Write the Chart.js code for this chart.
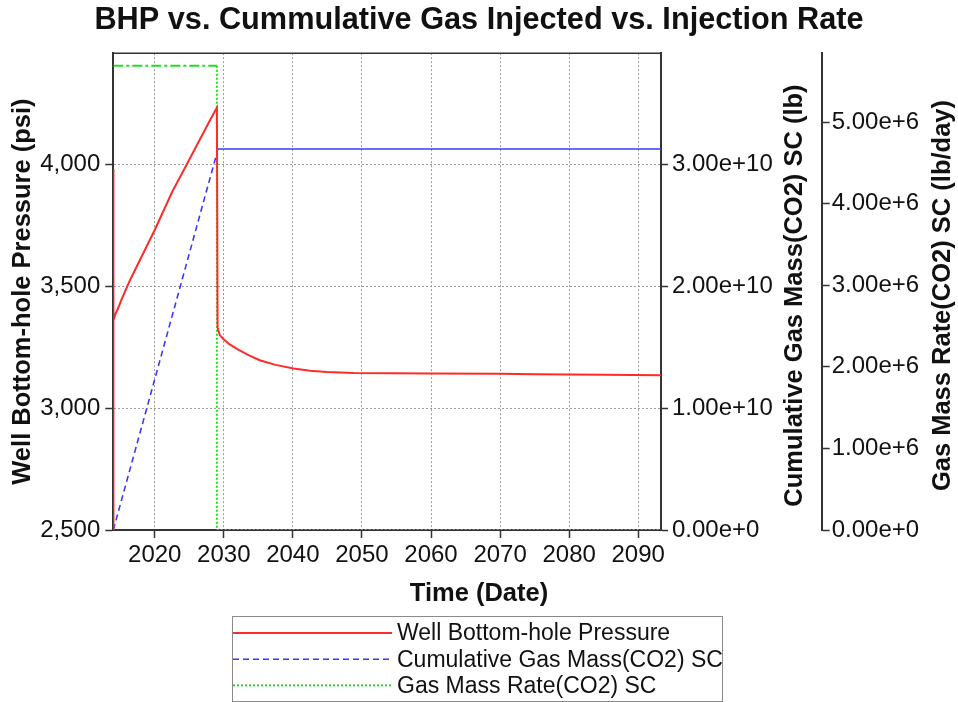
<!DOCTYPE html>
<html>
<head>
<meta charset="utf-8">
<title>BHP vs. Cummulative Gas Injected vs. Injection Rate</title>
<script src="https://cdn.jsdelivr.net/npm/chart.js@4.4.1/dist/chart.umd.min.js"></script>
<style>
  html, body { margin: 0; padding: 0; background: #fff; }
  #wrap { position: relative; width: 958px; height: 702px; }
</style>
</head>
<body>
<div id="wrap"><canvas id="chartBhp"></canvas></div>
<script>
// ── TEXT ──────────────────────────────────────────────────────
const CHART_TITLE = 'BHP vs. Cummulative Gas Injected vs. Injection Rate';
const X_TITLE  = 'Time (Date)';
const Y_TITLE  = 'Well Bottom-hole Pressure (psi)';
const Y1_TITLE = 'Cumulative Gas Mass(CO2) SC (lb)';
const Y2_TITLE = 'Gas Mass Rate(CO2) SC (lb/day)';
const SERIES_LABELS = ['Well Bottom-hole Pressure', 'Cumulative Gas Mass(CO2) SC', 'Gas Mass Rate(CO2) SC'];

// ── TICKS ─────────────────────────────────────────────────────
const YEAR_TICKS = [2020, 2030, 2040, 2050, 2060, 2070, 2080, 2090];
const PSI_TICKS  = [2500, 3000, 3500, 4000];
const CUM_TICKS  = [0, 1e10, 2e10, 3e10];
const RATE_TICKS = [0, 1e6, 2e6, 3e6, 4e6, 5e6];

// ── DATA (decimal years) ──────────────────────────────────────
const bhpYears = [2014.0, 2014.01, 2014.03, 2014.3, 2014.7, 2015.2, 2016.4, 2018.0, 2020.0, 2022.6, 2024.0, 2026.0, 2028.0, 2029.0,
                  2029.1, 2029.4, 2029.9, 2030.8, 2031.9, 2033.5, 2035.2, 2037.5, 2040.1, 2042.5, 2044.9, 2048.8,
                  2060.0, 2070.0, 2075.0, 2085.0, 2093.3];
const bhpPsi   = [2400, 3980, 3360, 3385, 3410, 3445, 3523, 3615, 3730, 3891, 3965, 4072, 4180, 4232,
                  3330, 3300, 3284, 3262, 3243, 3218, 3196, 3177, 3162, 3153, 3148, 3144,
                  3142, 3141, 3139, 3136, 3134];

const cumYears = [2014.0, 2029.0, 2029.1, 2093.3];
const cumLb    = [0, 3.09e10, 3.124e10, 3.124e10];

const rateYears = [2014.0, 2029.0, 2029.0, 2093.3];
const rateLbDay = [5.69e6, 5.69e6, 0, 0];

// ── STYLE ─────────────────────────────────────────────────────
const FONT   = "'Liberation Sans', Arial, sans-serif";
const INK    = '#111';
const AXIS   = '#333';
const GRID   = '#9a9a9a';
const COLORS = { bhp: '#ff2a2a', cum: '#3a3aff', rate: '#22dd22' };

function pts(xs, ys) { return xs.map((x, i) => ({ x, y: ys[i] })); }
function fixTicks(list) { return scale => { scale.ticks = list.map(v => ({ value: v })); }; }
function sci(v) { return v.toExponential(2); }
// plateau after shut-in is drawn solid in the source plot
function flatSolid(ctx) { return ctx.p0.parsed.y === ctx.p1.parsed.y ? [] : undefined; }

// ── OVERLAY: top frame, right titles, boxed legend ────────────
const overlay = {
  id: 'overlay',
  afterDraw(chart) {
    const { ctx, chartArea: a, scales } = chart;
    ctx.save();
    ctx.strokeStyle = AXIS; ctx.lineWidth = 1.5;
    ctx.beginPath(); ctx.moveTo(a.left, a.top); ctx.lineTo(a.right, a.top); ctx.stroke();

    // right axis titles read bottom-to-top
    ctx.fillStyle = INK;
    ctx.font = `bold 25.5px ${FONT}`;
    ctx.textAlign = 'center'; ctx.textBaseline = 'middle';
    [[scales.y1, Y1_TITLE, 26.5], [scales.y2, Y2_TITLE, 15]].forEach(([s, text, off]) => {
      ctx.save();
      ctx.translate(s.right - off, (a.top + a.bottom) / 2 + 4);
      ctx.rotate(-Math.PI / 2);
      ctx.fillText(text, 0, 0);
      ctx.restore();
    });

    // legend
    const L = { x: 232, y: 616, w: 490, h: 85, line: 159, row: 26.2 };
    ctx.strokeStyle = '#8a8a8a'; ctx.lineWidth = 1;
    ctx.strokeRect(L.x + 0.5, L.y + 0.5, L.w, L.h);
    ctx.font = `23px ${FONT}`;
    ctx.textAlign = 'left';
    chart.data.datasets.forEach((ds, i) => {
      const y = L.y + 17 + i * L.row;
      ctx.strokeStyle = ds.borderColor; ctx.lineWidth = ds.borderWidth;
      ctx.setLineDash(ds.legendDash || ds.borderDash || []);
      ctx.beginPath(); ctx.moveTo(L.x + 1, y); ctx.lineTo(L.x + 1 + L.line, y); ctx.stroke();
      ctx.setLineDash([]);
      ctx.fillStyle = INK;
      ctx.fillText(ds.label, L.x + L.line + 6, y + 1);
    });
    ctx.restore();
  }
};

// ── AXIS HELPERS ──────────────────────────────────────────────
function tickFont() { return { family: FONT, size: 24 }; }

function yScale(min, max, ticks, extra) {
  return Object.assign({
    type: 'linear', min, max,
    afterBuildTicks: fixTicks(ticks),
    border: { color: AXIS, width: 2, dash: [2, 2] },
  }, extra);
}

// ── CHART ─────────────────────────────────────────────────────
new Chart(document.getElementById('chartBhp'), {
  type: 'line',
  data: {
    datasets: [
      { label: SERIES_LABELS[0], data: pts(bhpYears, bhpPsi), yAxisID: 'y',
        borderColor: COLORS.bhp, borderWidth: 2, pointRadius: 0, tension: 0 },
      { label: SERIES_LABELS[1], data: pts(cumYears, cumLb), yAxisID: 'y1',
        borderColor: COLORS.cum, borderWidth: 1.6, borderDash: [6, 4], pointRadius: 0, tension: 0,
        segment: { borderDash: flatSolid } },
      { label: SERIES_LABELS[2], data: pts(rateYears, rateLbDay), yAxisID: 'y2',
        borderColor: COLORS.rate, borderWidth: 2, borderDash: [2, 2], pointRadius: 0, tension: 0,
        segment: { borderDash: ctx => (ctx.p0.parsed.y > 0 && ctx.p1.parsed.y > 0 ? [10, 3, 3, 3] : undefined) } },
    ]
  },
  options: {
    responsive: true, maintainAspectRatio: false, animation: false,
    layout: { padding: { top: 0, left: 0, right: 0, bottom: 84.4 } },
    plugins: {
      legend: { display: false },
      tooltip: { enabled: false },
      title: {
        display: true, text: CHART_TITLE, color: INK,
        font: { family: FONT, size: 30.7, weight: 'bold' },
        padding: { top: 2, bottom: 14.3 }
      },
      subtitle: {
        display: true, position: 'bottom', text: X_TITLE, color: INK,
        font: { family: FONT, size: 25.5, weight: 'bold' },
        padding: { top: 9, bottom: 8 }
      }
    },
    scales: {
      x: {
        type: 'linear', min: 2014.0, max: 2093.3,
        afterBuildTicks: fixTicks(YEAR_TICKS),
        afterFit: s => { s.height = 40; },
        ticks: { color: INK, font: tickFont(), padding: 3, maxRotation: 0, callback: v => String(v) },
        grid: { color: GRID, lineWidth: 1, tickColor: AXIS, tickLength: 8, tickWidth: 1.5, tickBorderDash: [] },
        border: { color: AXIS, width: 2, dash: [2, 2] },
      },
      y: yScale(2500, 4455, PSI_TICKS, {
        position: 'left',
        afterFit: s => { s.width = 113.3; },
        ticks: { color: INK, font: tickFont(), padding: 5, callback: v => v.toLocaleString('en-US') },
        grid: { color: GRID, lineWidth: 1, tickColor: AXIS, tickLength: 8, tickWidth: 1.5, tickBorderDash: [] },
        title: { display: true, text: Y_TITLE, color: INK, font: { family: FONT, size: 25.5, weight: 'bold' }, padding: { top: 8, bottom: 0 } },
      }),
      y1: yScale(0, 3.91e10, CUM_TICKS, {
        position: 'right',
        afterFit: s => { s.width = 160.7; },
        ticks: { color: INK, font: tickFont(), padding: 4, callback: sci },
        grid: { drawOnChartArea: false, tickColor: AXIS, tickLength: 7, tickWidth: 1.5, tickBorderDash: [] },
      }),
      y2: yScale(0, 5.845e6, RATE_TICKS, {
        position: 'right',
        afterFit: s => { s.width = 136.3; },
        ticks: { color: INK, font: tickFont(), padding: 2, callback: sci },
        grid: { drawOnChartArea: false, tickColor: AXIS, tickLength: 8, tickWidth: 1.5, tickBorderDash: [] },
      }),
    }
  },
  plugins: [overlay]
});
</script>
</body>
</html>
